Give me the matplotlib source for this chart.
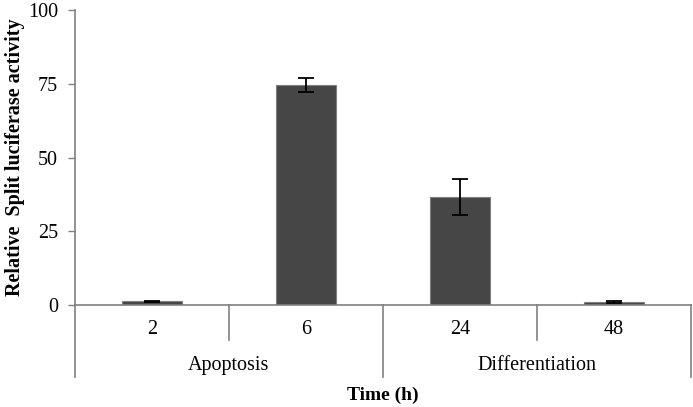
import matplotlib.pyplot as plt

# valori
tempi = ['2', '6', '24', '48']
attivita = [1.2, 74.6, 36.6, 1.0]
errori = [0.3, 2.5, 6.0, 0.2]
gruppi = ['Apoptosis', 'Differentiation']

plt.rcParams['font.family'] = ['Liberation Serif', 'DejaVu Serif']

fig = plt.figure(figsize=(6.93, 4.07), dpi=100)
ax = fig.add_axes([0.108, 0.2506, 0.889, 0.7248])

x = range(len(tempi))
ax.bar(x, attivita, width=0.39, color='#464646', edgecolor='#7f7f7f', linewidth=0.8,
       yerr=errori, capsize=6, error_kw={'elinewidth': 1.3, 'capthick': 1.3, 'ecolor': 'black'})

ax.set_xlim(-0.5, 3.5)
ax.set_ylim(0, 100)
ax.set_yticks([0, 25, 50, 75, 100])
ax.tick_params(axis='y', labelsize=14.5, length=5, color='#808080', width=1, pad=7)
ax.set_xticks(list(x))
ax.set_xticklabels(tempi, fontsize=14.5)
ax.tick_params(axis='x', length=0, pad=11)

for s in ['top', 'right']:
    ax.spines[s].set_visible(False)
for s in ['left', 'bottom']:
    ax.spines[s].set_color('#808080')
    ax.spines[s].set_linewidth(1.2)

# asse y prolungato sotto lo zero
tr = ax.get_xaxis_transform()
ax.plot([-0.5, -0.5], [0, -0.245], transform=tr, color='#808080', lw=1.2, clip_on=False)
# separatori delle categorie
for pos, basso in [(0.5, -0.12), (1.5, -0.245), (2.5, -0.12), (3.5, -0.245)]:
    ax.plot([pos, pos], [0, basso], transform=tr, color='#808080', lw=1.2, clip_on=False)

ax.text(0.5, -0.205, gruppi[0], transform=tr, ha='center', va='center', fontsize=14.5)
ax.text(2.5, -0.205, gruppi[1], transform=tr, ha='center', va='center', fontsize=14.5)
ax.text(1.5, -0.305, 'Time (h)', transform=tr, ha='center', va='center', fontsize=14, fontweight='bold')

ax.set_ylabel('Relative  Split luciferase activity', fontsize=14.5, fontweight='bold', labelpad=2)

fig.savefig('out.png', dpi=100)
